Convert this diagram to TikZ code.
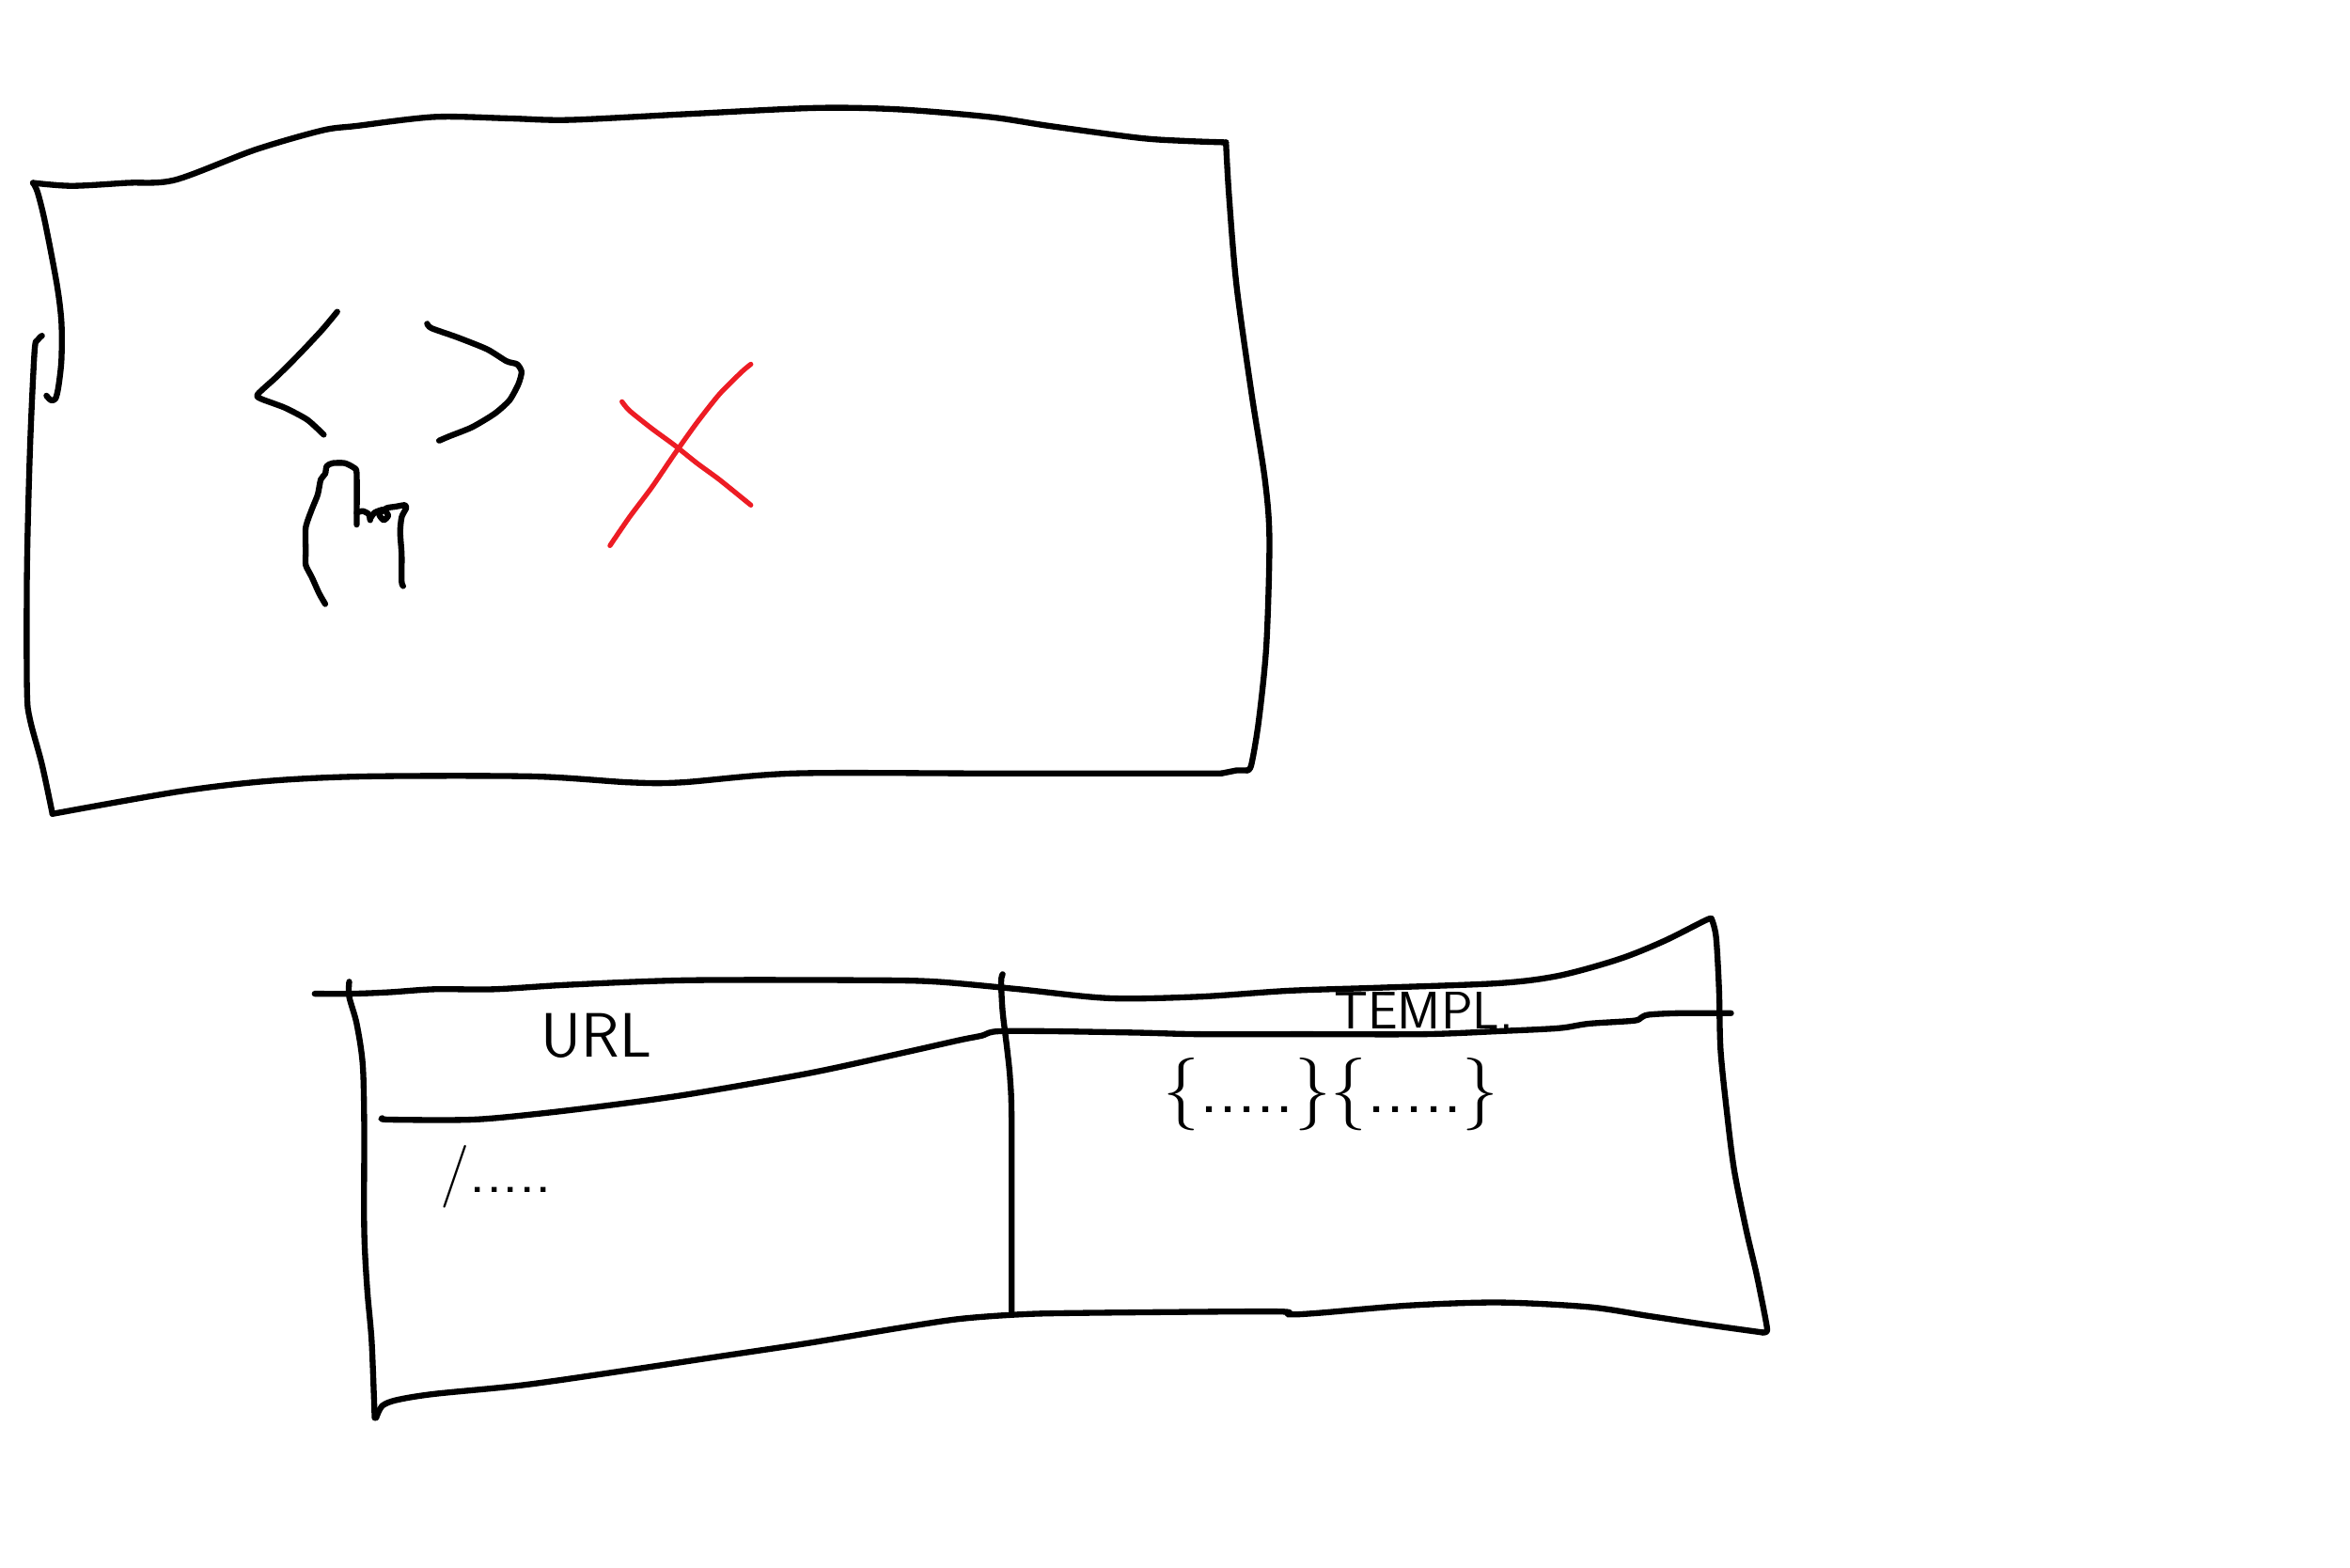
\documentclass[tikz,border=0pt]{standalone}
\usepackage{tikz}
\usetikzlibrary{positioning}
\definecolor{penred}{RGB}{237,28,36}
\tikzset{
  pen/.style={line width=1.8pt,line cap=round,line join=round},
  redpen/.style={pen,penred,line width=1.5pt},
  scrawl/.style={font=\sffamily\fontsize{19}{19}\selectfont,inner sep=0pt},
}

\begin{document}
\begin{tikzpicture}[x=0.015944cm,y=-0.015944cm]
\useasboundingbox (0,0) rectangle (1568,1046);
% upper sheet
\draw[pen] plot[smooth,tension=0.5] coordinates {(22,122) (48,124) (85,122) (117,120) (170,100) (215,87) (238,84) (290,78) (340,79) (380,80) (460,76) (545,72) (600,73) (660,78) (700,84) (760,92) (790,94) (818,95)};
\draw[pen] plot[smooth,tension=0.5] coordinates {(818,95) (820,130) (825,190) (835,262) (844,320) (847,360) (845,430) (840,480) (835,510) (832,514)};
\draw[pen] (832,514) -- (825,514) -- (815,516);
\draw[pen] plot[smooth,tension=0.5] coordinates {(815,516) (660,516) (530,516) (455,522) (420,522) (355,518) (245,518) (180,521) (120,528) (35,543)};
\draw[pen] plot[smooth,tension=0.5] coordinates {(35,543) (28,510) (20,480) (18,460) (18,380) (20,300) (23,235) (25,227) (28,224)};
\draw[pen] plot[smooth,tension=0.5] coordinates {(22,122) (25,128) (30,148) (38,190) (41,215) (41,240) (39,258) (37,266) (34,267) (31,264)};
% code brackets
\draw[pen] plot[smooth,tension=0.4] coordinates {(225,208) (215,220) (200,236) (185,251) (172,263) (174,266) (190,272) (205,280) (216,290)};
\draw[pen] plot[smooth,tension=0.4] coordinates {(285,216) (288,219) (305,225) (325,233) (338,241) (345,243) (348,248) (346,256) (340,267) (330,276) (315,285) (300,291) (293,294)};
% pointer hand
\draw[pen] plot[smooth,tension=0.4] coordinates {(217,403) (213,396) (208,385) (204,377) (204,368) (204,352) (208,340) (212,330) (214,320) (217,316) (218,311) (222,309) (230,309) (236,312) (238,316) (238,350)};
\draw[pen] plot[smooth,tension=0.4] coordinates {(238,342) (242,341) (246,343) (247,347)};
\draw[pen] plot[smooth,tension=0.4] coordinates {(247,346) (250,342) (256,340) (259,344) (256,347) (253,343) (258,339) (264,338) (270,337) (271,339) (268,345) (267,355) (268,370) (268,388) (269,391)};
% red cross
\draw[redpen] plot[smooth,tension=0.4] coordinates {(415,268) (420,274) (435,286) (450,297) (465,309) (480,320) (501,337)};
\draw[redpen] plot[smooth,tension=0.4] coordinates {(501,243) (495,248) (480,263) (465,282) (450,303) (435,325) (420,345) (407,364)};
% lower table
\draw[pen] plot[smooth,tension=0.5] coordinates {(210,663) (235,663) (260,662) (290,660) (330,660) (380,657) (460,654) (580,654) (625,655) (680,660) (740,666) (800,665) (860,661) (920,659) (1000,656) (1040,651) (1080,640) (1110,628) (1138,614) (1142,613)};
\draw[pen] plot[smooth,tension=0.5] coordinates {(1142,613) (1145,625) (1147,660) (1148,700) (1152,740) (1157,780) (1165,820) (1172,850) (1178,880) (1179,888) (1176,889)};
\draw[pen] plot[smooth,tension=0.5] coordinates {(1176,889) (1140,884) (1100,878) (1060,872) (1000,869) (940,871) (880,876) (860,877) (850,875) (720,876) (680,877) (640,880) (600,886) (540,896) (480,905) (420,914) (350,924) (290,930) (265,934) (255,938) (251,946)};
\draw[pen] plot[smooth,tension=0.5] coordinates {(233,655) (233,665) (238,683) (242,710) (243,750) (243,820) (245,860) (248,895) (250,946)};
\draw[pen] plot[smooth,tension=0.5] coordinates {(669,650) (668,655) (669,675) (672,700) (674,720) (675,750) (675,875)};
\draw[pen] plot[smooth,tension=0.5] coordinates {(255,746) (260,747) (315,747) (360,743) (410,737) (460,730) (540,716) (600,703) (640,694) (655,691) (660,689) (668,688) (700,688) (760,689) (800,690) (870,690) (950,690) (1000,688) (1040,686) (1060,683) (1090,681) (1095,679) (1100,677) (1120,676) (1155,676)};
% column heads and rows
\node[scrawl] (url) at (398,691) {URL};
\node[scrawl,font=\sffamily\fontsize{16}{16}\selectfont] (templ) at (950,674) {TEMPL.};
\node[scrawl] (urlrow) at (331,785) {/.....};
\node[scrawl,font=\sffamily\fontsize{22}{22}\selectfont] (templrow) at (888,730) {\{.....\}\{.....\}};
\end{tikzpicture}
\end{document}
